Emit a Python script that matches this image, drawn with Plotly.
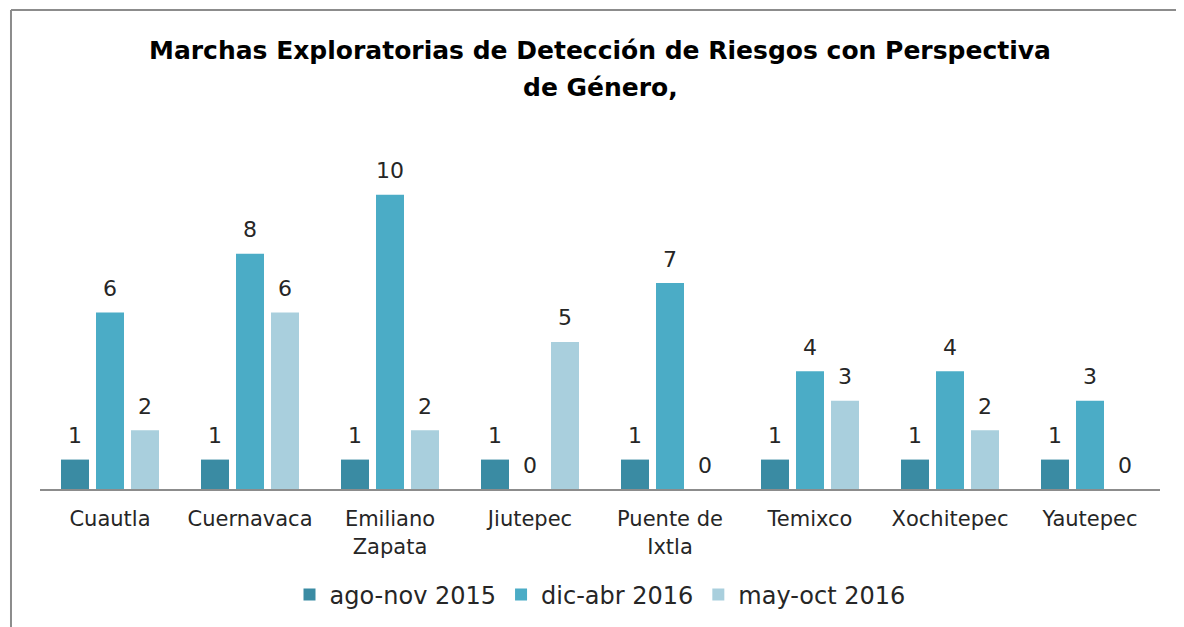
import plotly.graph_objects as go

categories = ["Cuautla", "Cuernavaca", "Emiliano<br>Zapata", "Jiutepec", "Puente de<br>Ixtla",
              "Temixco", "Xochitepec", "Yautepec"]
ago_nov_2015 = [1, 1, 1, 1, 1, 1, 1, 1]
dic_abr_2016 = [6, 8, 10, 0, 7, 4, 4, 3]
may_oct_2016 = [2, 6, 2, 5, 0, 3, 2, 0]

series = [
    ("ago-nov 2015", ago_nov_2015, "#3A8BA3"),
    ("dic-abr 2016", dic_abr_2016, "#4BACC6"),
    ("may-oct 2016", may_oct_2016, "#A9CFDD"),
]
offsets = [-35, 0, 35]

FONT = "DejaVu Sans, sans-serif"
TXT = "#262626"

fig = go.Figure()
annotations = []
for (name, vals, col), dx in zip(series, offsets):
    fig.add_trace(go.Bar(
        x=categories, y=vals, name=name,
        marker=dict(color=col, line=dict(width=0)),
    ))
    for c, v in zip(categories, vals):
        annotations.append(dict(
            x=c, y=v, xref="x", yref="y", text=str(v), showarrow=False,
            xshift=dx, yshift=24, yanchor="middle",
            font=dict(size=22, color=TXT, family=FONT),
        ))

annotations.append(dict(
    text="<b>Marchas Exploratorias de Detección de Riesgos con Perspectiva</b>",
    x=0.5, y=1.2436, xref="paper", yref="paper", xanchor="center", yanchor="middle",
    showarrow=False, font=dict(size=25, color="black", family=FONT)))
annotations.append(dict(
    text="<b>de Género,</b>",
    x=0.5, y=1.136, xref="paper", yref="paper", xanchor="center", yanchor="middle",
    showarrow=False, font=dict(size=25, color="black", family=FONT)))

border = dict(color="#8C8C8C", width=2)
fig.update_layout(
    width=1184, height=627,
    paper_bgcolor="white", plot_bgcolor="white",
    barmode="group", bargap=0.25, bargroupgap=0.2,
    margin=dict(l=32, r=32, t=128, b=146),
    xaxis=dict(
        showline=True, linecolor="#8C8C8C", linewidth=2,
        ticks="outside", ticklen=10, tickcolor="rgba(0,0,0,0)",
        tickfont=dict(size=21, color=TXT, family=FONT),
        showgrid=False, automargin=False,
    ),
    yaxis=dict(visible=False, range=[0, 12], showgrid=False, zeroline=False, automargin=False),
    legend=dict(
        orientation="h", x=0.5, xanchor="center", xref="paper",
        y=0.0638, yanchor="middle", yref="container",
        font=dict(size=24, color=TXT, family=FONT),
        traceorder="normal",
    ),
    showlegend=True,
    annotations=annotations,
    shapes=[
        dict(type="line", xref="paper", yref="paper", x0=-0.0259, x1=1.3, y0=1.357, y1=1.357,
             line=border, layer="below"),
        dict(type="line", xref="paper", yref="paper", x0=-0.0259, x1=-0.0259, y0=-0.8, y1=1.357,
             line=border, layer="below"),
    ],
)

fig.write_html("out.html")
